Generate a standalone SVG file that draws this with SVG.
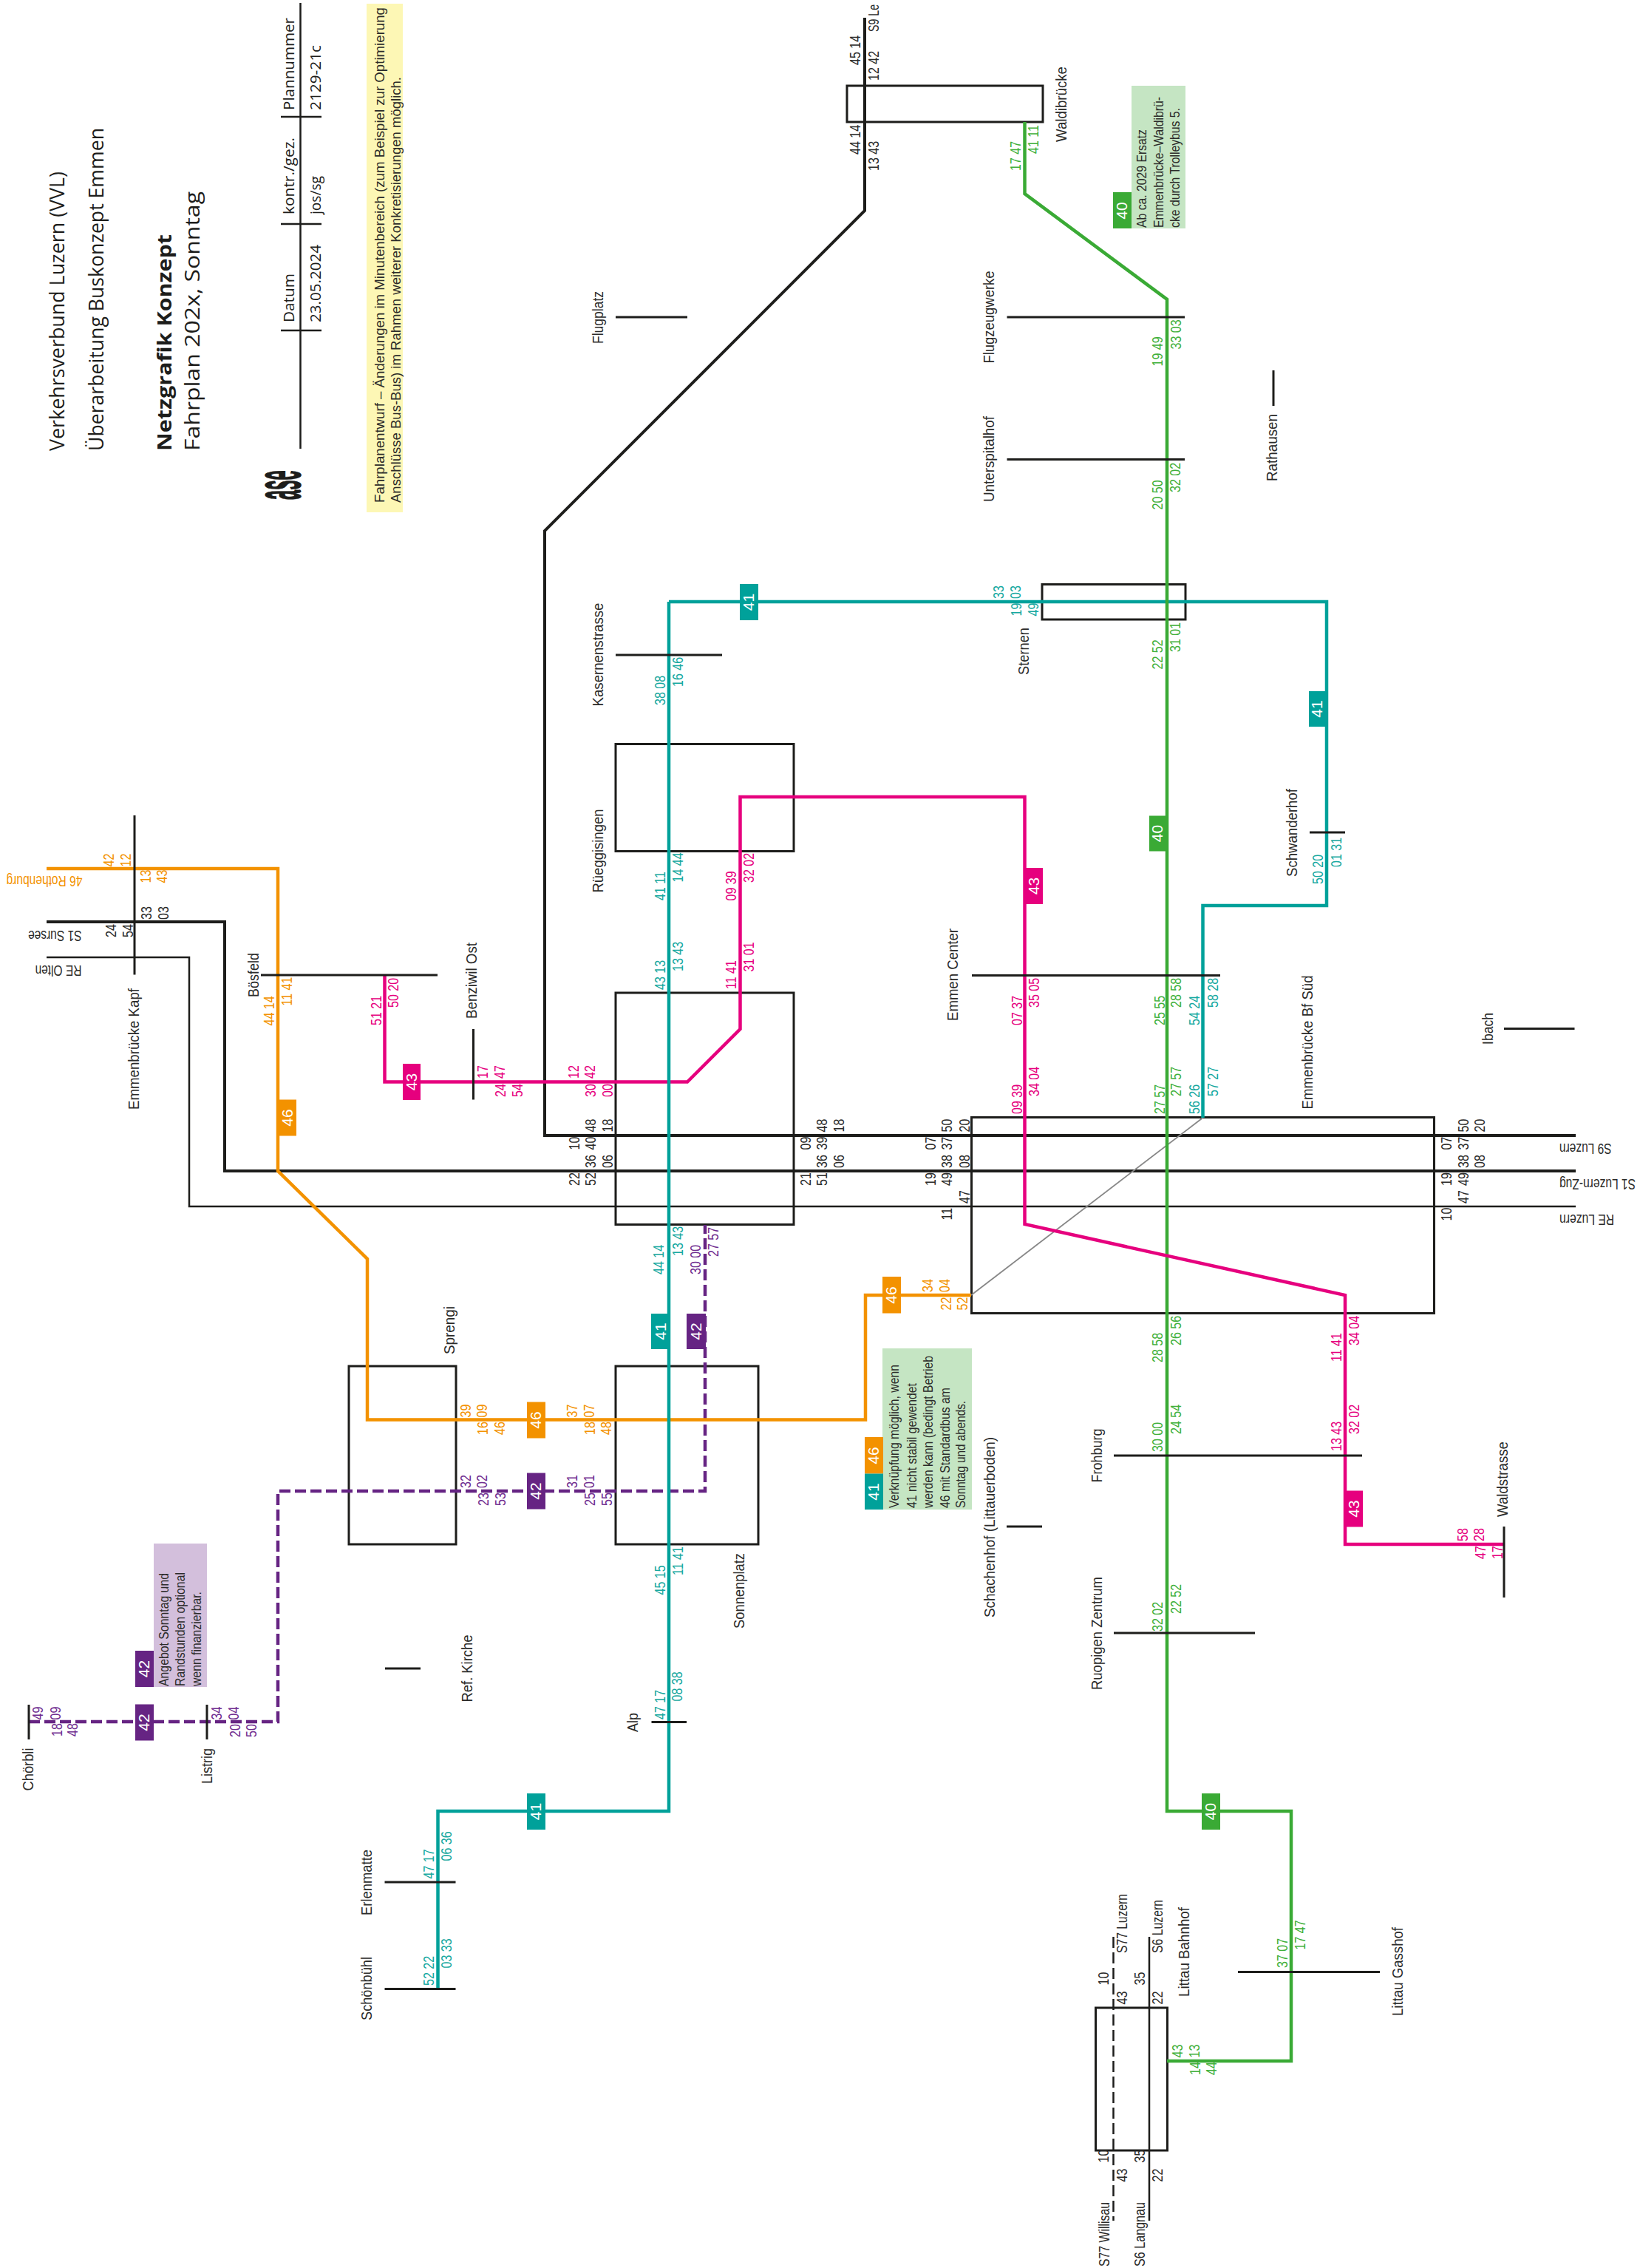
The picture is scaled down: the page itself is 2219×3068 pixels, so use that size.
<svg xmlns="http://www.w3.org/2000/svg" width="2219" height="3068" viewBox="0 0 2219 3068">
<style>
text{font-family:"Liberation Sans",Arial,sans-serif}
.t{font-size:20px;fill:#2b2b2a}
.d{font-size:20px}
.k{fill:#2b2b2a}.o{fill:#f39200}.g{fill:#3fb03a}.p{fill:#e6007e}.c{fill:#16a8a0}.v{fill:#6f2c8f}
.h{font-family:"Open Sans",sans-serif;font-size:27px;fill:#1d1d1b}
.hb{font-weight:700}
.m{font-family:"Open Sans",sans-serif;font-size:20px;fill:#1d1d1b}
.n{font-size:19px;fill:#2b2b2a}
.b{font-size:21px;fill:#fff;text-anchor:middle}
.box{fill:none;stroke:#1d1d1b;stroke-width:3}
.tick{fill:none;stroke:#1d1d1b;stroke-width:3}
.l{fill:none;stroke-width:4.5;stroke-linejoin:miter}
.rail{fill:none;stroke:#1d1d1b;stroke-width:4}
.thin{fill:none;stroke:#1d1d1b;stroke-width:2.5}
.dash{stroke-dasharray:15 6}
</style>

<g id="title">
<text class="h" transform="matrix(0 -1 1 0 87 610)" textLength="378" lengthAdjust="spacingAndGlyphs">Verkehrsverbund Luzern (VVL)</text>
<text class="h" transform="matrix(0 -1 1 0 140 610)" textLength="437" lengthAdjust="spacingAndGlyphs">Überarbeitung Buskonzept Emmen</text>
<text class="h hb" transform="matrix(0 -1 1 0 232 610)" textLength="293" lengthAdjust="spacingAndGlyphs">Netzgrafik Konzept</text>
<text class="h" transform="matrix(0 -1 1 0 270 610)" textLength="351" lengthAdjust="spacingAndGlyphs">Fahrplan 202x, Sonntag</text>
<path class="thin" d="M406.5 4V607M380 447H435M380 303H435M380 158H435"/>
<text class="m" transform="matrix(0 -1 1 0 398 436)" textLength="66" lengthAdjust="spacingAndGlyphs">Datum</text>
<text class="m" transform="matrix(0 -1 1 0 434 436)" textLength="105" lengthAdjust="spacingAndGlyphs">23.05.2024</text>
<text class="m" transform="matrix(0 -1 1 0 398 290)" textLength="104" lengthAdjust="spacingAndGlyphs">kontr./gez.</text>
<text class="m" transform="matrix(0 -1 1 0 434 290)" textLength="52" lengthAdjust="spacingAndGlyphs">jos/sg</text>
<text class="m" transform="matrix(0 -1 1 0 398 149)" textLength="125" lengthAdjust="spacingAndGlyphs">Plannummer</text>
<text class="m" transform="matrix(0 -1 1 0 434 149)" textLength="88" lengthAdjust="spacingAndGlyphs">2129-21c</text>
<text transform="matrix(0 -.27 1 0 406 676)" style="font-size:88px;font-weight:700;fill:#1d1d1b;stroke:#1d1d1b;stroke-width:1.500">ase</text>
</g>

<g id="note-fahrplanentwurf">
<rect x="496" y="5" width="49" height="688" fill="#fdf7b5"/>
<text class="n" transform="matrix(0 -1 1 0 520 680)" textLength="670" lengthAdjust="spacingAndGlyphs">Fahrplanentwurf – Änderungen im Minutenbereich (zum Beispiel zur Optimierung</text>
<text class="n" transform="matrix(0 -1 1 0 542 680)" textLength="576" lengthAdjust="spacingAndGlyphs">Anschlüsse Bus-Bus) im Rahmen weiterer Konkretisierungen möglich.</text>
</g>

<g id="note-40">
<rect x="1531" y="116" width="73" height="193" fill="#c5e5c3"/>
<rect x="1506" y="260" width="25" height="49" fill="#3aaa35"/>
<text class="b" transform="matrix(0 -1 1 0 1525 285)">40</text>
<text class="n" transform="matrix(0 -1 1 0 1551 308)" textLength="133" lengthAdjust="spacingAndGlyphs">Ab ca. 2029 Ersatz</text>
<text class="n" transform="matrix(0 -1 1 0 1574 308)" textLength="177" lengthAdjust="spacingAndGlyphs">Emmenbrücke–Waldibrü-</text>
<text class="n" transform="matrix(0 -1 1 0 1596 308)" textLength="162" lengthAdjust="spacingAndGlyphs">cke durch Trolleybus 5.</text>
</g>

<g id="note-46-41">
<rect x="1194" y="1824" width="121" height="218" fill="#c5e5c3"/>
<rect x="1170" y="1944" width="25" height="49.500" fill="#f39200"/>
<rect x="1170" y="1993.500" width="25" height="48.500" fill="#00a19a"/>
<text class="b" transform="matrix(0 -1 1 0 1189 1969)">46</text>
<text class="b" transform="matrix(0 -1 1 0 1189 2018)">41</text>
<text class="n" transform="matrix(0 -1 1 0 1216 2040)" textLength="194" lengthAdjust="spacingAndGlyphs">Verknüpfung möglich, wenn</text>
<text class="n" transform="matrix(0 -1 1 0 1240 2040)" textLength="169" lengthAdjust="spacingAndGlyphs">41 nicht stabil gewendet</text>
<text class="n" transform="matrix(0 -1 1 0 1262 2040)" textLength="206" lengthAdjust="spacingAndGlyphs">werden kann (bedingt Betrieb</text>
<text class="n" transform="matrix(0 -1 1 0 1285 2040)" textLength="163" lengthAdjust="spacingAndGlyphs">46 mit Standardbus am</text>
<text class="n" transform="matrix(0 -1 1 0 1306 2040)" textLength="145" lengthAdjust="spacingAndGlyphs">Sonntag und abends.</text>
</g>

<g id="note-42">
<rect x="208" y="2088" width="72" height="194" fill="#d3bfdc"/>
<rect x="183" y="2233" width="25" height="49" fill="#662483"/>
<text class="b" transform="matrix(0 -1 1 0 202 2257.500)">42</text>
<text class="n" transform="matrix(0 -1 1 0 228 2281)" textLength="153" lengthAdjust="spacingAndGlyphs">Angebot Sonntag und</text>
<text class="n" transform="matrix(0 -1 1 0 250 2281)" textLength="154" lengthAdjust="spacingAndGlyphs">Randstunden optional</text>
<text class="n" transform="matrix(0 -1 1 0 272 2281)" textLength="128" lengthAdjust="spacingAndGlyphs">wenn finanzierbar.</text>
</g>

<!-- box stations -->
<g id="st-waldibruecke"><rect class="box" x="1146" y="116" width="265" height="49"/>
<text class="t" transform="matrix(0 -1 1 0 1443 192)" textLength="102" lengthAdjust="spacingAndGlyphs">Waldibrücke</text></g>
<g id="st-sternen"><rect class="box" x="1410" y="790.500" width="194" height="47.500"/>
<text class="t" transform="matrix(0 -1 1 0 1391.500 913)" textLength="64" lengthAdjust="spacingAndGlyphs">Sternen</text></g>
<g id="st-rueeggisingen"><rect class="box" x="833" y="1006.500" width="241" height="145"/>
<text class="t" transform="matrix(0 -1 1 0 815.500 1207.500)" textLength="113" lengthAdjust="spacingAndGlyphs">Rüeggisingen</text></g>
<g id="st-mitte"><rect class="box" x="833" y="1343" width="241" height="313.500"/></g>
<g id="st-emmenbruecke-bf-sued"><rect class="box" x="1314.500" y="1511.500" width="626" height="265"/>
<text class="t" transform="matrix(0 -1 1 0 1775.500 1500.500)" textLength="181" lengthAdjust="spacingAndGlyphs">Emmenbrücke Bf Süd</text></g>
<g id="st-sprengi"><rect class="box" x="472" y="1848" width="145" height="241"/>
<text class="t" transform="matrix(0 -1 1 0 615 1832)" textLength="65" lengthAdjust="spacingAndGlyphs">Sprengi</text></g>
<g id="st-sonnenplatz"><rect class="box" x="833" y="1848" width="193" height="241"/>
<text class="t" transform="matrix(0 -1 1 0 1006.500 2203)" textLength="102" lengthAdjust="spacingAndGlyphs">Sonnenplatz</text></g>
<g id="st-littau-bahnhof"><rect class="box" x="1482.500" y="2716" width="97" height="193"/>
<text class="t" transform="matrix(0 -1 1 0 1609 2701)" textLength="121" lengthAdjust="spacingAndGlyphs">Littau Bahnhof</text></g>

<g id="connectors">
<path class="rail" d="M1170 24V285L737 718V1536H2132"/>
<path class="rail" d="M63 1247H304V1584H2132"/>
<path class="thin" d="M63 1295H256V1632H2132"/>
<path class="thin" d="M1555 2620V3004"/>
<path class="thin dash" d="M1506.500 2620V3004"/>
<path fill="none" stroke="#878787" stroke-width="1.800" d="M1314 1752L1627.500 1512"/>
<path class="l dash" stroke="#662483" d="M39 2329H376V2017H954V1657"/>
<path class="l" stroke="#f39200" d="M63 1175H376V1584L497 1703V1920.500H1171V1752H1314"/>
<path class="l" stroke="#00a19a" d="M905 814H1795V1225H1627.500V1512"/>
<path class="l" stroke="#3aaa35" d="M1386.500 165V262L1579 405V2450H1747V2788H1579"/>
<path class="l" stroke="#e6007e" d="M520.500 1319V1463.500H930L1001.500 1392V1078H1386.500V1656L1820 1752V2089H2035"/>
<path class="l" stroke="#00a19a" d="M905 814V2450H592.500V2690.500"/>
</g>

<!-- tick stations -->
<g id="st-emmenbruecke-kapf"><path class="tick" d="M182 1103V1318.500"/>
<text class="t" transform="matrix(0 -1 1 0 188 1501)" textLength="164" lengthAdjust="spacingAndGlyphs">Emmenbrücke Kapf</text></g>
<g id="st-boesfeld"><path class="tick" d="M353 1319H592"/>
<text class="t" transform="matrix(0 -1 1 0 350 1349)" textLength="60" lengthAdjust="spacingAndGlyphs">Bösfeld</text></g>
<g id="st-benziwil-ost"><path class="tick" d="M640.500 1392V1487.500"/>
<text class="t" transform="matrix(0 -1 1 0 645 1378)" textLength="103" lengthAdjust="spacingAndGlyphs">Benziwil Ost</text></g>
<g id="st-flugplatz"><path class="tick" d="M833 429H930"/>
<text class="t" transform="matrix(0 -1 1 0 815.500 465)" textLength="71" lengthAdjust="spacingAndGlyphs">Flugplatz</text></g>
<g id="st-kasernenstrasse"><path class="tick" d="M833 886H977"/>
<text class="t" transform="matrix(0 -1 1 0 815.500 955.500)" textLength="140" lengthAdjust="spacingAndGlyphs">Kasernenstrasse</text></g>
<g id="st-flugzeugwerke"><path class="tick" d="M1362.500 429H1603"/>
<text class="t" transform="matrix(0 -1 1 0 1345 491.500)" textLength="125" lengthAdjust="spacingAndGlyphs">Flugzeugwerke</text></g>
<g id="st-unterspitalhof"><path class="tick" d="M1362.500 621.500H1603"/>
<text class="t" transform="matrix(0 -1 1 0 1345 679)" textLength="116" lengthAdjust="spacingAndGlyphs">Unterspitalhof</text></g>
<g id="st-rathausen"><path class="tick" d="M1723 501V549"/>
<text class="t" transform="matrix(0 -1 1 0 1728 651)" textLength="91" lengthAdjust="spacingAndGlyphs">Rathausen</text></g>
<g id="st-schwanderhof"><path class="tick" d="M1772 1126H1820"/>
<text class="t" transform="matrix(0 -1 1 0 1755 1186)" textLength="119" lengthAdjust="spacingAndGlyphs">Schwanderhof</text></g>
<g id="st-emmen-center"><path class="tick" d="M1315 1319.500H1651"/>
<text class="t" transform="matrix(0 -1 1 0 1296 1381)" textLength="125" lengthAdjust="spacingAndGlyphs">Emmen Center</text></g>
<g id="st-ibach"><path class="tick" d="M2035 1391.500H2130.500"/>
<text class="t" transform="matrix(0 -1 1 0 2020 1413)" textLength="43" lengthAdjust="spacingAndGlyphs">Ibach</text></g>
<g id="st-frohburg"><path class="tick" d="M1507 1969H1843"/>
<text class="t" transform="matrix(0 -1 1 0 1491 2005.500)" textLength="73" lengthAdjust="spacingAndGlyphs">Frohburg</text></g>
<g id="st-schachenhof"><path class="tick" d="M1362 2065H1410"/>
<text class="t" transform="matrix(0 -1 1 0 1346 2188)" textLength="244" lengthAdjust="spacingAndGlyphs">Schachenhof (Littauerboden)</text></g>
<g id="st-waldstrasse"><path class="tick" d="M2035 2065V2161"/>
<text class="t" transform="matrix(0 -1 1 0 2040 2052)" textLength="102" lengthAdjust="spacingAndGlyphs">Waldstrasse</text></g>
<g id="st-ruopigen-zentrum"><path class="tick" d="M1507 2209H1698"/>
<text class="t" transform="matrix(0 -1 1 0 1491 2286)" textLength="153" lengthAdjust="spacingAndGlyphs">Ruopigen Zentrum</text></g>
<g id="st-ref-kirche"><path class="tick" d="M521 2257H569"/>
<text class="t" transform="matrix(0 -1 1 0 639 2302.500)" textLength="91" lengthAdjust="spacingAndGlyphs">Ref. Kirche</text></g>
<g id="st-alp"><path class="tick" d="M881.500 2329.500H929"/>
<text class="t" transform="matrix(0 -1 1 0 863 2343)" textLength="26" lengthAdjust="spacingAndGlyphs">Alp</text></g>
<g id="st-erlenmatte"><path class="tick" d="M520.500 2546H616.500"/>
<text class="t" transform="matrix(0 -1 1 0 503 2591)" textLength="89" lengthAdjust="spacingAndGlyphs">Erlenmatte</text></g>
<g id="st-schoenbuehl"><path class="tick" d="M520.500 2690.500H616.500"/>
<text class="t" transform="matrix(0 -1 1 0 503 2733)" textLength="86" lengthAdjust="spacingAndGlyphs">Schönbühl</text></g>
<g id="st-chloerbli"><path class="tick" d="M39 2306V2353"/>
<text class="t" transform="matrix(0 -1 1 0 44.500 2422.500)" textLength="58" lengthAdjust="spacingAndGlyphs">Chörbli</text></g>
<g id="st-listrig"><path class="tick" d="M280 2306V2353"/>
<text class="t" transform="matrix(0 -1 1 0 287 2413)" textLength="48" lengthAdjust="spacingAndGlyphs">Listrig</text></g>
<g id="st-littau-gasshof"><path class="tick" d="M1675 2667.500H1867"/>
<text class="t" transform="matrix(0 -1 1 0 1898 2727)" textLength="120" lengthAdjust="spacingAndGlyphs">Littau Gasshof</text></g>

<!-- line ends -->
<g id="line-labels">
<text class="t" transform="matrix(0 -1 1 0 1189 43)" textLength="37" lengthAdjust="spacingAndGlyphs">S9 Le</text>
<text class="d o" transform="matrix(-1 0 0 -1 111.500 1185)" textLength="103" lengthAdjust="spacingAndGlyphs">46 Rothenburg</text>
<text class="t" transform="matrix(-1 0 0 -1 110.500 1259)" textLength="72.500" lengthAdjust="spacingAndGlyphs">S1 Sursee</text>
<text class="t" transform="matrix(-1 0 0 -1 110.500 1306)" textLength="63" lengthAdjust="spacingAndGlyphs">RE Olten</text>
<text class="t" transform="matrix(-1 0 0 -1 2180.500 1546.500)" textLength="70.500" lengthAdjust="spacingAndGlyphs">S9 Luzern</text>
<text class="t" transform="matrix(-1 0 0 -1 2213 1595)" textLength="103" lengthAdjust="spacingAndGlyphs">S1 Luzern-Zug</text>
<text class="t" transform="matrix(-1 0 0 -1 2184 1643)" textLength="74" lengthAdjust="spacingAndGlyphs">RE Luzern</text>
<text class="t" transform="matrix(0 -1 1 0 1525 2642)" textLength="80" lengthAdjust="spacingAndGlyphs">S77 Luzern</text>
<text class="t" transform="matrix(0 -1 1 0 1573 2642)" textLength="72" lengthAdjust="spacingAndGlyphs">S6 Luzern</text>
<text class="t" transform="matrix(0 -1 1 0 1500.500 3066)" textLength="87" lengthAdjust="spacingAndGlyphs">S77 Willisau</text>
<text class="t" transform="matrix(0 -1 1 0 1549 3066)" textLength="87" lengthAdjust="spacingAndGlyphs">S6 Langnau</text>
</g>

<!-- badges -->
<g id="badge-43a"><rect x="545" y="1439" width="24" height="49" fill="#e6007e"/><text class="b" transform="matrix(0 -1 1 0 564 1463.500)">43</text></g>
<g id="badge-46a"><rect x="378" y="1487.500" width="23" height="49" fill="#f39200"/><text class="b" transform="matrix(0 -1 1 0 396 1512)">46</text></g>
<g id="badge-46b"><rect x="1194" y="1727" width="25" height="49.500" fill="#f39200"/><text class="b" transform="matrix(0 -1 1 0 1213 1752)">46</text></g>
<g id="badge-41a"><rect x="881" y="1777" width="26" height="48" fill="#00a19a"/><text class="b" transform="matrix(0 -1 1 0 901 1801)">41</text></g>
<g id="badge-42a"><rect x="929" y="1777" width="26" height="48" fill="#662483"/><text class="b" transform="matrix(0 -1 1 0 949 1801)">42</text></g>
<g id="badge-46c"><rect x="713" y="1896.500" width="25" height="49" fill="#f39200"/><text class="b" transform="matrix(0 -1 1 0 732 1921)">46</text></g>
<g id="badge-42b"><rect x="713" y="1992.500" width="25" height="49" fill="#662483"/><text class="b" transform="matrix(0 -1 1 0 732 2017)">42</text></g>
<g id="badge-42c"><rect x="183" y="2305.500" width="25" height="49" fill="#662483"/><text class="b" transform="matrix(0 -1 1 0 202 2330)">42</text></g>
<g id="badge-41b"><rect x="713" y="2426" width="25" height="49" fill="#00a19a"/><text class="b" transform="matrix(0 -1 1 0 732 2450.500)">41</text></g>
<g id="badge-41c"><rect x="1001" y="790" width="25" height="49" fill="#00a19a"/><text class="b" transform="matrix(0 -1 1 0 1020 814.500)">41</text></g>
<g id="badge-43b"><rect x="1388" y="1174" width="23" height="49" fill="#e6007e"/><text class="b" transform="matrix(0 -1 1 0 1406 1198.500)">43</text></g>
<g id="badge-40a"><rect x="1555" y="1103.500" width="22" height="48" fill="#3aaa35"/><text class="b" transform="matrix(0 -1 1 0 1573 1127.500)">40</text></g>
<g id="badge-41d"><rect x="1771" y="935" width="22" height="48" fill="#00a19a"/><text class="b" transform="matrix(0 -1 1 0 1789 959)">41</text></g>
<g id="badge-43c"><rect x="1821" y="2016.500" width="23" height="49" fill="#e6007e"/><text class="b" transform="matrix(0 -1 1 0 1839 2041)">43</text></g>
<g id="badge-40b"><rect x="1626" y="2426" width="25" height="49" fill="#3aaa35"/><text class="b" transform="matrix(0 -1 1 0 1645 2450.500)">40</text></g>

<g id="times-rail">
<g class="d k">
<text transform="matrix(0 -.8 1 0 1164 88)">45 14</text>
<text transform="matrix(0 -.8 1 0 1189 109)">12 42</text>
<text transform="matrix(0 -.8 1 0 1164 209)">44 14</text>
<text transform="matrix(0 -.8 1 0 1189 231)">13 43</text>
<text transform="matrix(0 -.8 1 0 205 1244)">33</text>
<text transform="matrix(0 -.8 1 0 227.500 1244)">03</text>
<text transform="matrix(0 -.8 1 0 157 1268)">24</text>
<text transform="matrix(0 -.8 1 0 179.500 1268)">54</text>
<text transform="matrix(0 -.8 1 0 806 1531.500)">48</text>
<text transform="matrix(0 -.8 1 0 828.500 1531.500)">18</text>
<text transform="matrix(0 -.8 1 0 784 1555.500)">10</text>
<text transform="matrix(0 -.8 1 0 806 1555.500)">40</text>
<text transform="matrix(0 -.8 1 0 806 1580)">36</text>
<text transform="matrix(0 -.8 1 0 828.500 1580)">06</text>
<text transform="matrix(0 -.8 1 0 784 1604)">22</text>
<text transform="matrix(0 -.8 1 0 806 1604)">52</text>
<text transform="matrix(0 -.8 1 0 1118.500 1531.500)">48</text>
<text transform="matrix(0 -.8 1 0 1142 1531.500)">18</text>
<text transform="matrix(0 -.8 1 0 1096.500 1555.500)">09</text>
<text transform="matrix(0 -.8 1 0 1118.500 1555.500)">39</text>
<text transform="matrix(0 -.8 1 0 1118.500 1580)">36</text>
<text transform="matrix(0 -.8 1 0 1142 1580)">06</text>
<text transform="matrix(0 -.8 1 0 1096.500 1604)">21</text>
<text transform="matrix(0 -.8 1 0 1118.500 1604)">51</text>
<text transform="matrix(0 -.8 1 0 1288 1531.500)">50</text>
<text transform="matrix(0 -.8 1 0 1312 1531.500)">20</text>
<text transform="matrix(0 -.8 1 0 1266 1555.500)">07</text>
<text transform="matrix(0 -.8 1 0 1288 1555.500)">37</text>
<text transform="matrix(0 -.8 1 0 1288 1580)">38</text>
<text transform="matrix(0 -.8 1 0 1312 1580)">08</text>
<text transform="matrix(0 -.8 1 0 1266 1604)">19</text>
<text transform="matrix(0 -.8 1 0 1288 1604)">49</text>
<text transform="matrix(0 -.8 1 0 1312 1628)">47</text>
<text transform="matrix(0 -.8 1 0 1288 1650.500)">11</text>
<text transform="matrix(0 -.8 1 0 1987 1531.500)">50</text>
<text transform="matrix(0 -.8 1 0 2009 1531.500)">20</text>
<text transform="matrix(0 -.8 1 0 1964 1555.500)">07</text>
<text transform="matrix(0 -.8 1 0 1987 1555.500)">37</text>
<text transform="matrix(0 -.8 1 0 1987 1580)">38</text>
<text transform="matrix(0 -.8 1 0 2009 1580)">08</text>
<text transform="matrix(0 -.8 1 0 1964 1604)">19</text>
<text transform="matrix(0 -.8 1 0 1987 1604)">49</text>
<text transform="matrix(0 -.8 1 0 1987 1628)">47</text>
<text transform="matrix(0 -.8 1 0 1964 1651.500)">10</text>
<text transform="matrix(0 -.8 1 0 1500 2685.500)">10</text>
<text transform="matrix(0 -.8 1 0 1525 2711.500)">43</text>
<text transform="matrix(0 -.8 1 0 1549 2685.500)">35</text>
<text transform="matrix(0 -.8 1 0 1573 2711.500)">22</text>
<text transform="matrix(0 -.8 1 0 1500 2925.500)">10</text>
<text transform="matrix(0 -.8 1 0 1525 2951.500)">43</text>
<text transform="matrix(0 -.8 1 0 1549 2925.500)">35</text>
<text transform="matrix(0 -.8 1 0 1573 2951.500)">22</text>
</g></g>

<g id="times-46"><g class="d o">
<text transform="matrix(0 -.8 1 0 154 1172.500)">42</text>
<text transform="matrix(0 -.8 1 0 176.500 1172.500)">12</text>
<text transform="matrix(0 -.8 1 0 204 1194.500)">13</text>
<text transform="matrix(0 -.8 1 0 226 1194.500)">43</text>
<text transform="matrix(0 -.8 1 0 370.500 1387.500)">44 14</text>
<text transform="matrix(0 -.8 1 0 395 1360.500)">11 41</text>
<text transform="matrix(0 -.8 1 0 636.500 1917.500)">39</text>
<text transform="matrix(0 -.8 1 0 658.500 1917.500)">09</text>
<text transform="matrix(0 -.8 1 0 660 1941)">16</text>
<text transform="matrix(0 -.8 1 0 682.500 1941)">46</text>
<text transform="matrix(0 -.8 1 0 781 1917.500)">37</text>
<text transform="matrix(0 -.8 1 0 804 1917.500)">07</text>
<text transform="matrix(0 -.8 1 0 805 1941)">18</text>
<text transform="matrix(0 -.8 1 0 827 1941)">48</text>
<text transform="matrix(0 -.8 1 0 1262 1748)">34</text>
<text transform="matrix(0 -.8 1 0 1285 1748)">04</text>
<text transform="matrix(0 -.8 1 0 1287 1772.500)">22</text>
<text transform="matrix(0 -.8 1 0 1309 1772.500)">52</text>
</g></g>

<g id="times-43"><g class="d p">
<text transform="matrix(0 -.8 1 0 515.500 1387)">51 21</text>
<text transform="matrix(0 -.8 1 0 539 1363)">50 20</text>
<text transform="matrix(0 -.8 1 0 660 1459)">17</text>
<text transform="matrix(0 -.8 1 0 683 1459)">47</text>
<text transform="matrix(0 -.8 1 0 684 1484)">24</text>
<text transform="matrix(0 -.8 1 0 707 1484)">54</text>
<text transform="matrix(0 -.8 1 0 783 1459)">12</text>
<text transform="matrix(0 -.8 1 0 805 1459)">42</text>
<text transform="matrix(0 -.8 1 0 806 1484)">30</text>
<text transform="matrix(0 -.8 1 0 828.500 1484)">00</text>
<text transform="matrix(0 -.8 1 0 995.500 1338)">11 41</text>
<text transform="matrix(0 -.8 1 0 1020 1314.500)">31 01</text>
<text transform="matrix(0 -.8 1 0 995.500 1218.500)">09 39</text>
<text transform="matrix(0 -.8 1 0 1020 1194)">32 02</text>
<text transform="matrix(0 -.8 1 0 1382.500 1387)">07 37</text>
<text transform="matrix(0 -.8 1 0 1405.500 1363)">35 05</text>
<text transform="matrix(0 -.8 1 0 1382.500 1507)">09 39</text>
<text transform="matrix(0 -.8 1 0 1405.500 1483)">34 04</text>
<text transform="matrix(0 -.8 1 0 1814.500 1842)">11 41</text>
<text transform="matrix(0 -.8 1 0 1838.500 1820)">34 04</text>
<text transform="matrix(0 -.8 1 0 1814.500 1963)">13 43</text>
<text transform="matrix(0 -.8 1 0 1838.500 1940)">32 02</text>
<text transform="matrix(0 -.8 1 0 1985.500 2085)">58</text>
<text transform="matrix(0 -.8 1 0 2008 2085)">28</text>
<text transform="matrix(0 -.8 1 0 2009.500 2109)">47</text>
<text transform="matrix(0 -.8 1 0 2033 2109)">17</text>
</g></g>

<g id="times-41"><g class="d c">
<text transform="matrix(0 -.8 1 0 1358 810)">33</text>
<text transform="matrix(0 -.8 1 0 1381 810)">03</text>
<text transform="matrix(0 -.8 1 0 1381.500 833.500)">19</text>
<text transform="matrix(0 -.8 1 0 1405 833.500)">49</text>
<text transform="matrix(0 -.8 1 0 899.500 954)">38 08</text>
<text transform="matrix(0 -.8 1 0 924 929)">16 46</text>
<text transform="matrix(0 -.8 1 0 899.500 1218)">41 11</text>
<text transform="matrix(0 -.8 1 0 924 1193.500)">14 44</text>
<text transform="matrix(0 -.8 1 0 899.500 1339)">43 13</text>
<text transform="matrix(0 -.8 1 0 924 1314)">13 43</text>
<text transform="matrix(0 -.8 1 0 898 1724)">44 14</text>
<text transform="matrix(0 -.8 1 0 924 1699)">13 43</text>
<text transform="matrix(0 -.8 1 0 900 2157.500)">45 15</text>
<text transform="matrix(0 -.8 1 0 924 2131)">11 41</text>
<text transform="matrix(0 -.8 1 0 900 2326)">47 17</text>
<text transform="matrix(0 -.8 1 0 923 2301.500)">08 38</text>
<text transform="matrix(0 -.8 1 0 587 2541.500)">47 17</text>
<text transform="matrix(0 -.8 1 0 611 2517.500)">06 36</text>
<text transform="matrix(0 -.8 1 0 587 2686)">52 22</text>
<text transform="matrix(0 -.8 1 0 611 2662.500)">03 33</text>
<text transform="matrix(0 -.8 1 0 1623 1387)">54 24</text>
<text transform="matrix(0 -.8 1 0 1647.500 1363)">58 28</text>
<text transform="matrix(0 -.8 1 0 1623 1507)">56 26</text>
<text transform="matrix(0 -.8 1 0 1647.500 1483)">57 27</text>
<text transform="matrix(0 -.8 1 0 1790 1196)">50 20</text>
<text transform="matrix(0 -.8 1 0 1815 1173)">01 31</text>
</g></g>

<g id="times-40"><g class="d g">
<text transform="matrix(0 -.8 1 0 1381 231)">17 47</text>
<text transform="matrix(0 -.8 1 0 1405 208)">41 11</text>
<text transform="matrix(0 -.8 1 0 1573 495.500)">19 49</text>
<text transform="matrix(0 -.8 1 0 1597.500 472.500)">33 03</text>
<text transform="matrix(0 -.8 1 0 1573 689.500)">20 50</text>
<text transform="matrix(0 -.8 1 0 1597 666)">32 02</text>
<text transform="matrix(0 -.8 1 0 1573 905.500)">22 52</text>
<text transform="matrix(0 -.8 1 0 1597 882)">31 01</text>
<text transform="matrix(0 -.8 1 0 1575.500 1387)">25 55</text>
<text transform="matrix(0 -.8 1 0 1598 1363)">28 58</text>
<text transform="matrix(0 -.8 1 0 1575.500 1507)">27 57</text>
<text transform="matrix(0 -.8 1 0 1598 1483)">27 57</text>
<text transform="matrix(0 -.8 1 0 1573 1843)">28 58</text>
<text transform="matrix(0 -.8 1 0 1597.500 1820)">26 56</text>
<text transform="matrix(0 -.8 1 0 1573 1964)">30 00</text>
<text transform="matrix(0 -.8 1 0 1597.500 1940)">24 54</text>
<text transform="matrix(0 -.8 1 0 1573 2207)">32 02</text>
<text transform="matrix(0 -.8 1 0 1597.500 2183)">22 52</text>
<text transform="matrix(0 -.8 1 0 1741.500 2662)">37 07</text>
<text transform="matrix(0 -.8 1 0 1765.500 2637.500)">17 47</text>
<text transform="matrix(0 -.8 1 0 1600 2783.500)">43</text>
<text transform="matrix(0 -.8 1 0 1623 2783.500)">13</text>
<text transform="matrix(0 -.8 1 0 1624 2807)">14</text>
<text transform="matrix(0 -.8 1 0 1646 2807)">44</text>
</g></g>

<g id="times-42"><g class="d v">
<text transform="matrix(0 -.8 1 0 948 1724)">30 00</text>
<text transform="matrix(0 -.8 1 0 972 1700)">27 57</text>
<text transform="matrix(0 -.8 1 0 636.500 2013)">32</text>
<text transform="matrix(0 -.8 1 0 658.500 2013)">02</text>
<text transform="matrix(0 -.8 1 0 661 2037)">23</text>
<text transform="matrix(0 -.8 1 0 683.500 2037)">53</text>
<text transform="matrix(0 -.8 1 0 781 2013)">31</text>
<text transform="matrix(0 -.8 1 0 804 2013)">01</text>
<text transform="matrix(0 -.8 1 0 805 2037)">25</text>
<text transform="matrix(0 -.8 1 0 827.500 2037)">55</text>
<text transform="matrix(0 -.8 1 0 58 2326.500)">49</text>
<text transform="matrix(0 -.8 1 0 81.500 2326.500)">09</text>
<text transform="matrix(0 -.8 1 0 83.500 2349)">18</text>
<text transform="matrix(0 -.8 1 0 105 2349)">48</text>
<text transform="matrix(0 -.8 1 0 300 2326.500)">34</text>
<text transform="matrix(0 -.8 1 0 323 2326.500)">04</text>
<text transform="matrix(0 -.8 1 0 325 2350)">20</text>
<text transform="matrix(0 -.8 1 0 347 2350)">50</text>
</g></g>
</svg>
